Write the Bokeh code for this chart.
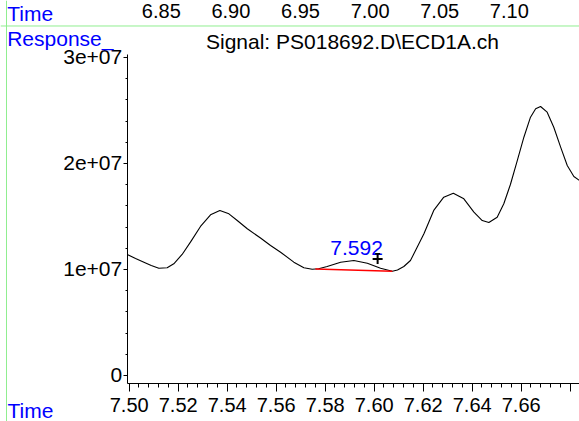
import numpy as np
from bokeh.plotting import figure
from bokeh.models import Range1d, FixedTicker, Label, Span
from bokeh.core.properties import value
from bokeh.embed import file_html
from bokeh.resources import INLINE

# ---- data ----
time_min = [7.4992, 7.5026, 7.5060, 7.5090, 7.5121, 7.5155, 7.5182, 7.5216, 7.5250,
            7.5291, 7.5332, 7.5370, 7.5407, 7.5441, 7.5482, 7.5536, 7.5577, 7.5618,
            7.5672, 7.5713, 7.5747, 7.5773, 7.5808, 7.5863, 7.5917, 7.5972, 7.6026,
            7.6074, 7.6095, 7.6121, 7.6148, 7.6162, 7.6203, 7.6243, 7.6284, 7.6323,
            7.6366, 7.6407, 7.6441, 7.6468, 7.6502, 7.6529, 7.6556, 7.6584, 7.6611,
            7.6638, 7.6659, 7.6679, 7.6706, 7.6733, 7.6761, 7.6788, 7.6815, 7.6838]
response = [11.42e6, 11.04e6, 10.69e6, 10.38e6, 10.12e6, 10.16e6, 10.54e6, 11.42e6, 12.58e6,
            14.06e6, 15.16e6, 15.57e6, 15.25e6, 14.62e6, 13.84e6, 12.97e6, 12.26e6, 11.63e6,
            10.69e6, 10.16e6, 10.03e6, 10.07e6, 10.28e6, 10.69e6, 10.85e6, 10.59e6, 10.12e6,
            9.84e6, 9.95e6, 10.28e6, 10.85e6, 11.48e6, 13.37e6, 15.57e6, 16.82e6, 17.20e6,
            16.67e6, 15.41e6, 14.62e6, 14.43e6, 14.93e6, 16.20e6, 18.02e6, 20.28e6, 22.48e6,
            24.37e6, 25.16e6, 25.38e6, 24.84e6, 23.42e6, 21.54e6, 19.81e6, 18.77e6, 18.40e6]

baseline_time = [7.5760, 7.6074]
baseline_resp = [10.05e6, 9.84e6]

peak_rt = 7.592
peak_label = "7.592"
peak_apex = 10.85e6

marker_time = 7.6014
marker_resp = 10.99e6
marker_top = 11.48e6

x_ticks = [7.50, 7.52, 7.54, 7.56, 7.58, 7.60, 7.62, 7.64, 7.66, 7.68]
x_tick_labels = ["7.50", "7.52", "7.54", "7.56", "7.58", "7.60", "7.62", "7.64", "7.66", ""]
y_ticks = [0.0, 1e7, 2e7, 3e7]
y_tick_labels = ["0", "1e+07", "2e+07", "3e+07"]
top_ticks = [6.85, 6.90, 6.95, 7.00, 7.05, 7.10]
top_tick_labels = ["6.85", "6.90", "6.95", "7.00", "7.05", "7.10"]

title_text = "Signal: PS018692.D\\ECD1A.ch"
x_name = "Time"
y_name = "Response_"

# ---- styling / layout ----
FONT = "Liberation Sans"
BLUE = "#0000ff"
GREEN = "#90ee90"

X_LO, X_HI = 7.44747, 7.68380          # whole canvas width
Y_LO, Y_HI = -4.3396e6, 3.5377e7       # whole canvas height
TOP_LO, TOP_HI = 6.73448, 7.15043      # secondary time scale
AXIS_X_AT = 7.49918                    # where the response axis sits
AXIS_Y_AT = -7.547e5                   # where the time axis sits
Y_AXIS_TOP = 3.0283e7
SEP_X = 7.44992
SEP_Y = 3.2972e7

x_minor = [round(v, 3) for v in np.arange(7.500, 7.6845, 0.004)]
y_minor = [float(v) for v in np.arange(0, 3.0e7 + 1, 2e6)]

p = figure(width=579, height=421, output_backend="svg", toolbar_location=None,
           title=None, x_range=Range1d(X_LO, X_HI), y_range=Range1d(Y_LO, Y_HI),
           min_border=0, min_border_left=0, min_border_right=0,
           min_border_top=0, min_border_bottom=0)
p.extra_x_ranges = {"top": Range1d(TOP_LO, TOP_HI)}
p.xgrid.visible = False
p.ygrid.visible = False
p.outline_line_color = None
p.background_fill_color = "white"
p.border_fill_color = "white"

xa = p.xaxis[0]
xa.fixed_location = AXIS_Y_AT
xa.bounds = (AXIS_X_AT, X_HI)
xa.ticker = FixedTicker(ticks=x_ticks, minor_ticks=x_minor)
xa.major_label_overrides = dict(zip(x_ticks, x_tick_labels))
xa.major_tick_out = 8
xa.major_tick_in = 0
xa.minor_tick_out = 4
xa.minor_tick_in = 0
xa.major_label_standoff = 7
xa.major_label_text_font = FONT
xa.major_label_text_font_size = "20px"
xa.major_label_text_color = "black"
xa.axis_line_color = "black"
xa.major_tick_line_color = "black"
xa.minor_tick_line_color = "black"

ya = p.yaxis[0]
ya.fixed_location = AXIS_X_AT
ya.bounds = (AXIS_Y_AT, Y_AXIS_TOP)
ya.ticker = FixedTicker(ticks=y_ticks, minor_ticks=y_minor)
ya.major_label_overrides = dict(zip(y_ticks, y_tick_labels))
ya.major_tick_out = 4
ya.major_tick_in = 0
ya.minor_tick_out = 2
ya.minor_tick_in = 0
ya.major_label_standoff = 1
ya.major_label_text_font = FONT
ya.major_label_text_font_size = "21px"
ya.major_label_text_color = "black"
ya.axis_line_color = "black"

# green separator lines
p.add_layout(Span(location=SEP_X, dimension="height", line_color=GREEN, line_width=1))
p.add_layout(Span(location=SEP_Y, dimension="width", line_color=GREEN, line_width=1))

# signal trace
p.line(time_min, response, line_color="black", line_width=1.1)
# integration baseline
p.line(baseline_time, baseline_resp, line_color="red", line_width=1.5)
# peak label
p.text(x=[peak_rt], y=[peak_apex], text=[peak_label], text_color=BLUE,
       text_font=value(FONT), text_font_size="21px", text_align="center",
       text_baseline="alphabetic", x_offset=2, y_offset=-12)
# marker
p.scatter([marker_time], [marker_resp], marker="cross", size=10,
          line_color="black", line_width=2)
p.scatter([marker_time], [marker_top], marker="dash", size=5,
          line_color="black", line_width=1.5)

# secondary time scale (top row)
for t, s in zip(top_ticks, top_tick_labels):
    p.add_layout(Label(x=t, y=411, x_units="data", y_units="screen",
                       x_range_name="top", text=s, text_align="center",
                       text_baseline="alphabetic", text_font=FONT,
                       text_font_size="20px", text_color="black"))

def screen_label(x, y, text, color, align="left"):
    p.add_layout(Label(x=x, y=y, x_units="screen", y_units="screen", text=text,
                       text_align=align, text_baseline="alphabetic", text_font=FONT,
                       text_font_size="21px", text_color=color))

screen_label(6.7, 407.8, x_name, BLUE)
screen_label(6.7, 382.8, y_name, BLUE)
screen_label(352, 380.5, title_text, "black", align="center")
screen_label(7, 11, x_name, BLUE)

open("out.html", "w").write(file_html(p, INLINE))
